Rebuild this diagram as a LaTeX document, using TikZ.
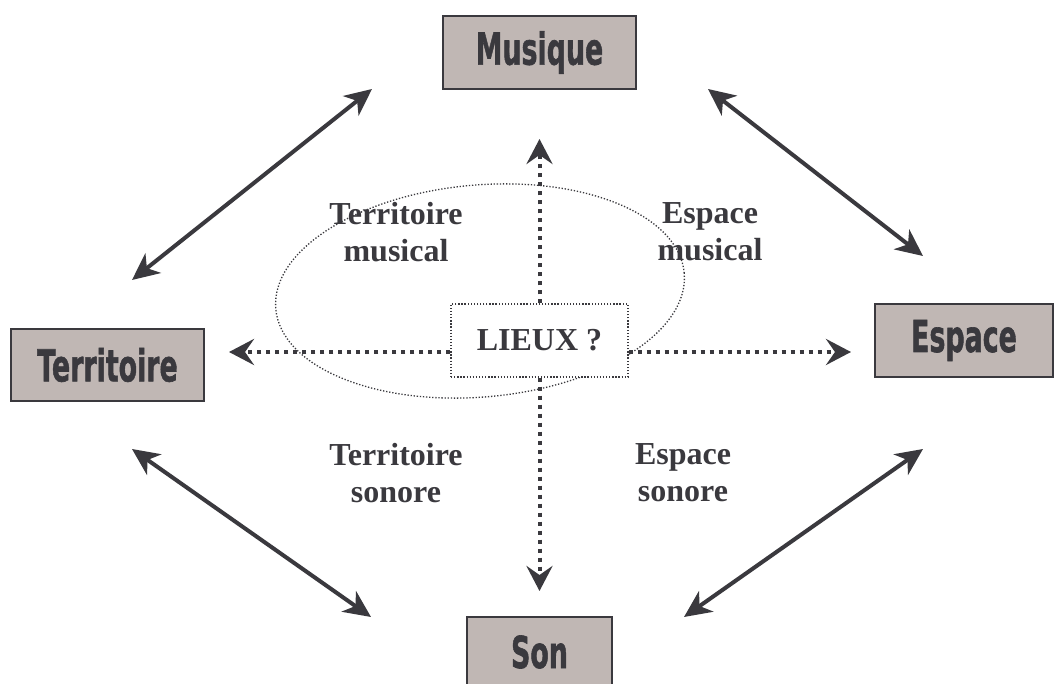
\documentclass[tikz,border=0pt]{standalone}
\usepackage{fontspec}
\usepackage{graphicx}
\setmainfont{Liberation Serif}
\newfontfamily\impfont[BoldFeatures={FakeBold=1.5}]{DejaVu Sans}
\usetikzlibrary{arrows.meta,shapes.geometric,calc}
\definecolor{dk}{HTML}{3A393E}
\definecolor{boxfill}{HTML}{C0B7B4}
\newcommand\impt[1]{\scalebox{0.61}[1]{\impfont\bfseries\fontsize{44}{44}\selectfont #1}}
\tikzset{
  bigbox/.style={draw=dk, line width=2pt, fill=boxfill, inner sep=0pt, text=dk},
  lbl/.style={font=\fontsize{32}{37}\selectfont\bfseries, text=dk, align=center},
  dbl/.style={draw=dk, line width=4pt, {Stealth[length=27pt,width=25pt,inset=8pt]}-{Stealth[length=27pt,width=25pt,inset=8pt]}},
  dotarr/.style={draw=dk, line width=4pt, dash pattern=on 4pt off 5pt, -{Stealth[length=25pt,width=26pt,inset=9pt]}},
  thindot/.style={draw=dk, line width=1.3pt, dash pattern=on 1.3pt off 1.8pt},
}
\begin{document}
\begin{tikzpicture}[x=1pt,y=-1pt]
\useasboundingbox[fill=white] (0,0) rectangle (1055,684);
% ellipse
\node[ellipse, thindot, minimum width=410pt, minimum height=212pt, rotate=5, inner sep=0pt] (ell) at (480,291) {};
% boxes
\node[bigbox, minimum width=193pt, minimum height=73pt] (mus) at (539.5,52.5) {\impt{Musique}};
\node[bigbox, minimum width=193pt, minimum height=72pt] (ter) at (107.5,365) {\impt{Territoire}};
\node[bigbox, minimum width=178pt, minimum height=73pt] (esp) at (964,340.5) {\impt{Espace}};
\node[bigbox, minimum width=145pt, minimum height=70pt] (son) at (539.5,652) {\impt{Son}};
\node[thindot, fill=white, minimum width=177pt, minimum height=73pt, inner sep=0pt, font=\fontsize{32}{37}\selectfont\bfseries, text=dk] (lieux) at (539.5,340.5) {LIEUX ?};
% dotted arrows
\draw[dotarr] ([yshift=-11.5pt]lieux.west) -- ([yshift=13pt,xshift=24pt]ter.east);
\draw[dotarr] ([yshift=-11.5pt]lieux.east) -- ([yshift=-11.5pt,xshift=-23pt]esp.west);
\draw[dotarr] (lieux.north) -- ([yshift=-49pt]mus.south);
\draw[dotarr] (lieux.south) -- ([yshift=25pt]son.north);
% double arrows
\coordinate (mt1) at (132,280);
\coordinate (mt2) at (372,89);
\coordinate (me1) at (708,89);
\coordinate (me2) at (923,256);
\coordinate (ts1) at (132,449);
\coordinate (ts2) at (371,617);
\coordinate (es1) at (923,449);
\coordinate (es2) at (684,617);
\draw[dbl] (mt1) -- (mt2);
\draw[dbl] (me1) -- (me2);
\draw[dbl] (ts1) -- (ts2);
\draw[dbl] (es1) -- (es2);
% labels
\node[lbl] (tmus) at (396,232) {Territoire\\musical};
\node[lbl] (emus) at (710,232) {Espace\\musical};
\node[lbl] (tson) at (396,473) {Territoire\\sonore};
\node[lbl] (eson) at (683,473) {Espace\\sonore};
\end{tikzpicture}
\end{document}
